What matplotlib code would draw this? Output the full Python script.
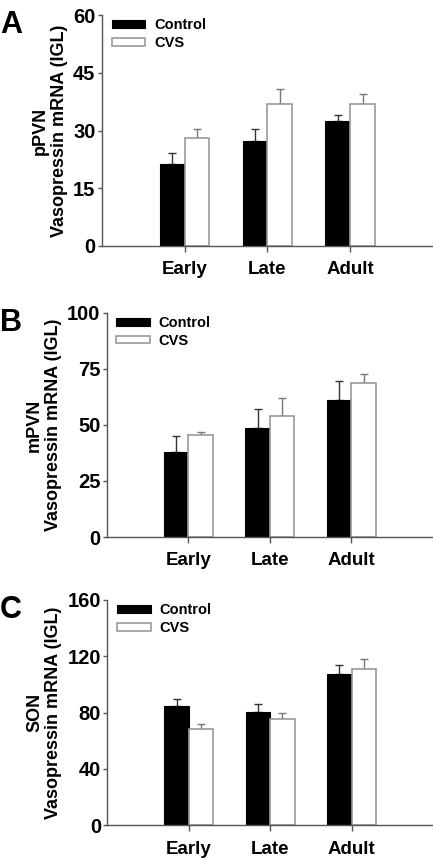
import matplotlib
matplotlib.use("Agg")
import matplotlib.pyplot as plt
import numpy as np

plt.rcParams['font.family'] = ['Liberation Sans', 'DejaVu Sans']
plt.rcParams['font.weight'] = 'bold'

groups = ["Early", "Late", "Adult"]
series = ["Control", "CVS"]

a_control = [21.3, 27.4, 32.5]
a_control_err = [2.9, 2.9, 1.5]
a_cvs = [28.0, 36.8, 36.9]
a_cvs_err = [2.3, 4.1, 2.6]

b_control = [38.0, 48.5, 60.9]
b_control_err = [6.9, 8.6, 8.6]
b_cvs = [45.6, 53.8, 68.7]
b_cvs_err = [1.1, 8.0, 3.8]

c_control = [84.7, 80.2, 107.7]
c_control_err = [4.8, 5.7, 5.9]
c_cvs = [68.6, 75.7, 111.2]
c_cvs_err = [3.1, 4.3, 6.7]

panels = [
    dict(letter="A", region="pPVN", ctrl=a_control, ctrl_err=a_control_err,
         cvs=a_cvs, cvs_err=a_cvs_err, ymax=60, yticks=[0, 15, 30, 45, 60],
         rect=[0.235, 0.7133, 0.765, 0.2692]),
    dict(letter="B", region="mPVN", ctrl=b_control, ctrl_err=b_control_err,
         cvs=b_cvs, cvs_err=b_cvs_err, ymax=100, yticks=[0, 25, 50, 75, 100],
         rect=[0.2464, 0.3741, 0.7536, 0.2614]),
    dict(letter="C", region="SON", ctrl=c_control, ctrl_err=c_control_err,
         cvs=c_cvs, cvs_err=c_cvs_err, ymax=160, yticks=[0, 40, 80, 120, 160],
         rect=[0.2478, 0.0381, 0.7522, 0.2626]),
]

fig = plt.figure(figsize=(4.33, 8.58), dpi=100)
axis_col = "#555555"
edge_gray = "#999999"
w = 0.3
x = np.arange(1, len(groups) + 1)

for p in panels:
    ax = fig.add_axes(p["rect"])
    ax.bar(x - w / 2, p["ctrl"], w, color="black", edgecolor="black", linewidth=0.8,
           label=series[0], zorder=2)
    ax.bar(x + w / 2, p["cvs"], w, color="white", edgecolor=edge_gray, linewidth=1.2,
           label=series[1], zorder=2)
    ax.errorbar(x - w / 2, p["ctrl"], yerr=[np.zeros(3), p["ctrl_err"]], fmt="none",
                ecolor="#333333", elinewidth=1.0, capsize=3, capthick=1.0, zorder=1)
    ax.errorbar(x + w / 2, p["cvs"], yerr=[np.zeros(3), p["cvs_err"]], fmt="none",
                ecolor="#777777", elinewidth=1.0, capsize=3, capthick=1.0, zorder=1)
    ax.set_xlim(0, 4)
    ax.set_ylim(0, p["ymax"])
    ax.set_yticks(p["yticks"])
    ax.set_xticks(x)
    ax.set_xticklabels(groups, fontsize=13.5, fontweight="bold")
    ax.tick_params(axis="y", labelsize=14.5, length=3, width=1, color=axis_col, direction="out", pad=1.5)
    ax.tick_params(axis="x", length=4, width=1, color=axis_col, direction="out", pad=7)
    for lab in ax.get_yticklabels():
        lab.set_fontweight("bold")
    for s in ["top", "right"]:
        ax.spines[s].set_visible(False)
    for s in ["left", "bottom"]:
        ax.spines[s].set_color(axis_col)
        ax.spines[s].set_linewidth(1.0)
    ax.set_ylabel(p["region"] + "\nVasopressin mRNA (IGL)", fontsize=13,
                  fontweight="bold", linespacing=1.1, labelpad=4)
    leg = ax.legend(loc="upper left", bbox_to_anchor=(0.03, 0.985), frameon=False,
                    fontsize=10.5, handlelength=2.3, handleheight=0.45,
                    labelspacing=0.25, borderpad=0, handletextpad=0.6,
                    borderaxespad=0)
    for t in leg.get_texts():
        t.set_fontweight("bold")
    bbox = ax.get_position()
    fig.text(0.0, bbox.y1 + 0.006, p["letter"], fontsize=22, fontweight="bold",
             va="top", ha="left")

fig.savefig("out.png", dpi=100)
